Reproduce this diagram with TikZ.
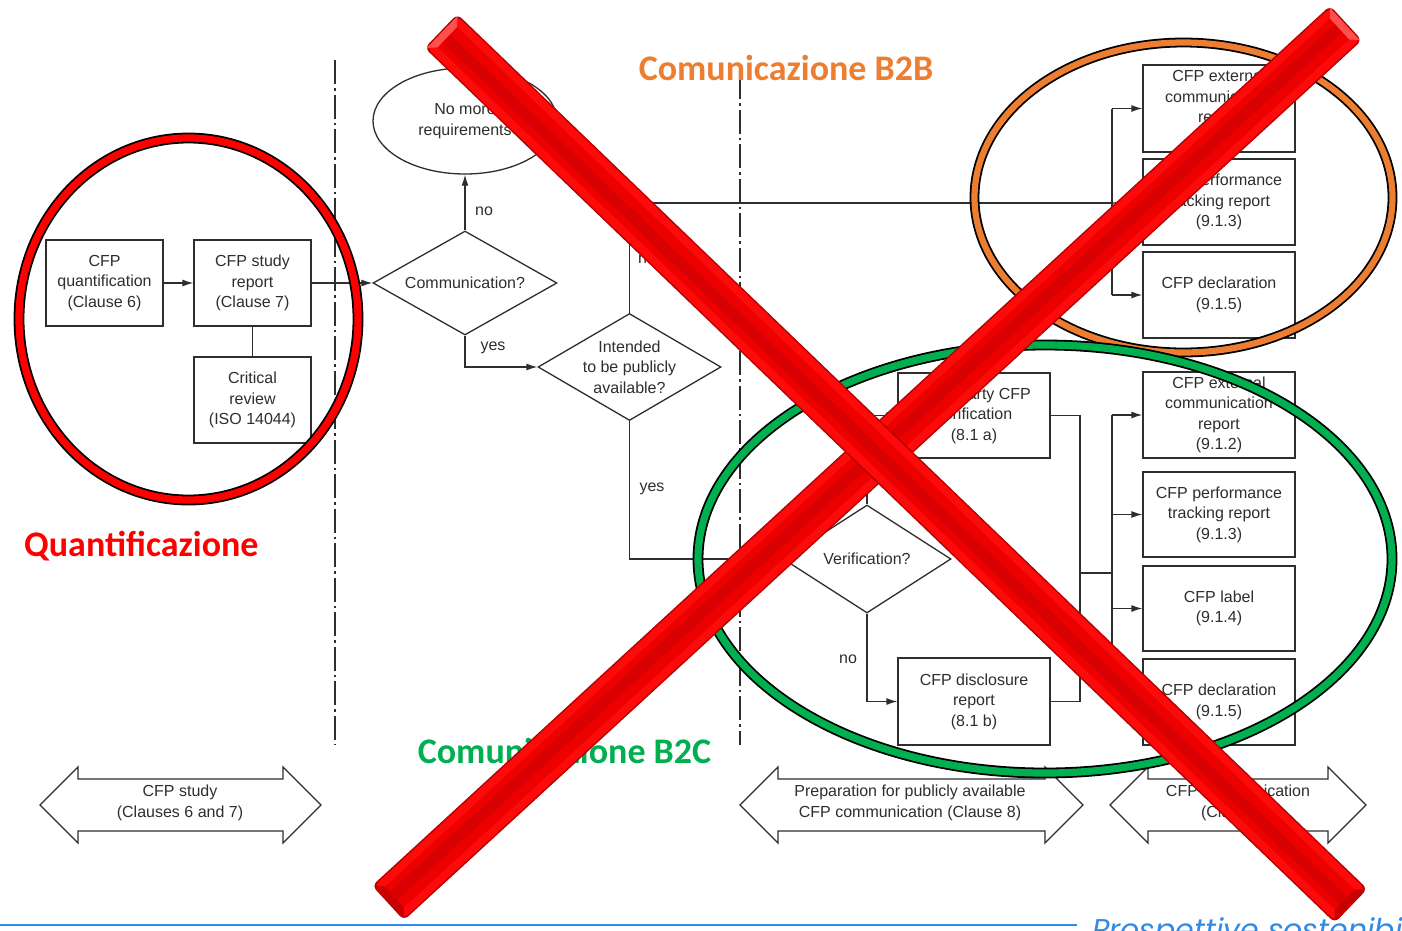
\documentclass[tikz,border=0pt]{standalone}
\usepackage{fontspec}
\setmainfont{Liberation Sans}
\newfontfamily\calib{Carlito}
\newfontfamily\prosp{Poppins}
\usetikzlibrary{shapes.geometric,arrows.meta,calc}

\definecolor{ink}{HTML}{2E2E2E}
\definecolor{qred}{HTML}{FF0000}
\definecolor{b2borange}{HTML}{ED7D31}
\definecolor{b2cgreen}{HTML}{00B050}
\definecolor{pblue}{HTML}{2F8AE8}
\definecolor{barrim}{HTML}{B40000}
\definecolor{barbody}{HTML}{FF0A0A}
\definecolor{barface}{HTML}{EC0000}
\definecolor{barlight}{HTML}{FF5050}
\definecolor{bardark}{HTML}{C80000}

% one bevelled bar of the cross: start point, canvas angle, length
\newcommand\crossbar[3]{%
  \begin{scope}[shift={#1}, rotate=#2]
    \fill[barrim, rounded corners=6] (0,-23.5) rectangle (#3,23.5);
    \fill[barbody, rounded corners=5] (1.5,-22) rectangle ({#3-1.5},22);
    \fill[barlight] (1.5,-22) -- (9,-14) -- (9,14) -- (1.5,22) -- cycle;
    \fill[bardark] ({#3-1.5},-22) -- ({#3-9},-14) -- ({#3-9},14) -- ({#3-1.5},22) -- cycle;
    \fill[barface] (9,-14) rectangle ({#3-9},14);
    \fill[bardark, opacity=0.55] (9,-4) rectangle ({#3-9},7);
  \end{scope}}

\tikzset{
  diag/.style={font=\fontsize{16}{20.5}\selectfont, text=ink},
  box/.style={diag, draw=ink, line width=1.3, fill=white, align=center,
    minimum width=117, minimum height=86, inner sep=0},
  rbox/.style={box, minimum width=152},
  dia/.style={shape=diamond, draw=ink, line width=1.3, fill=white, inner sep=0},
  conn/.style={draw=ink, line width=1.3},
  arr/.style={conn, -{Latex[length=11,width=7]}},
  lbl/.style={diag, inner sep=0},
  phase/.style={draw=ink, line width=1.3, fill=white, line join=miter},
  lane/.style={draw=ink, line width=1.6, dash pattern=on 24 off 4 on 2.5 off 4},
  ring/.style={draw=black, line width=1.8, double=#1, double distance=7.2},
  title/.style={font=\calib\bfseries\fontsize{36}{40}\selectfont, inner sep=0}
}

\begin{document}
\begin{tikzpicture}[x=1pt, y=-1pt]
\useasboundingbox (0,0) rectangle (1402,930);
\fill[white] (0,0) rectangle (1402,930);

% swim-lane separators
\draw[lane] (335,60) -- (335,745);
\draw[lane] (740,75) -- (740,745);

% quantification
\node[box] (quant) at (104.5,283) {CFP\\quantification\\(Clause 6)};
\node[box] (study) at (252.5,283) {CFP study\\report\\(Clause 7)};
\node[box] (crit) at (252.5,400) {Critical\\review\\(ISO 14044)};

% decisions (diamond outlines sized explicitly, text set on top)
\node[diag, shape=ellipse, draw=ink, line width=1.3, fill=white, align=center,
      minimum width=184, minimum height=106, inner sep=0] (nomore) at (465,121) {No more\\requirements};
\node[dia, minimum width=184, minimum height=104] (comm) at (465,283) {};
\node[diag] (commtxt) at (comm.center) {Communication?};
\node[dia, minimum width=183, minimum height=107] (intended) at (629.5,367) {};
\node[diag, align=center] (intendedtxt) at (intended.center) {Intended\\to be publicly\\available?};
\node[dia, minimum width=168, minimum height=108] (verif) at (867,559) {};
\node[diag] (veriftxt) at (verif.center) {Verification?};

% preparation for publicly available communication
\node[box, minimum width=152, minimum height=85] (third) at (974,415.5) {Third-party CFP\\verification\\(8.1 a)};
\node[box, minimum width=152, minimum height=87] (discl) at (974,701.5) {CFP disclosure\\report\\(8.1 b)};

% B2B communication outputs
\node[rbox, minimum height=87] (ext1) at (1219,108.5) {CFP external\\communication\\report\\(9.1.2)};
\node[rbox] (perf1) at (1219,202) {CFP performance\\tracking report\\(9.1.3)};
\node[rbox] (decl1) at (1219,295) {CFP declaration\\(9.1.5)};

% B2C communication outputs
\node[rbox] (ext2) at (1219,415) {CFP external\\communication\\report\\(9.1.2)};
\node[rbox, minimum height=85] (perf2) at (1219,514.5) {CFP performance\\tracking report\\(9.1.3)};
\node[rbox, minimum height=85] (label2) at (1219,608.5) {CFP label\\(9.1.4)};
\node[rbox] (decl2) at (1219,702) {CFP declaration\\(9.1.5)};

% junction points
\coordinate (topbus) at (1112,203);
\coordinate (join) at (1080,573);
\coordinate (lowbus) at (1112,573);

% connectors
\draw[arr] (quant) -- (study);
\draw[arr] (study.east) -- (comm.west);
\draw[conn] (study) -- (crit);
\draw[arr] (comm.north) -- (nomore.south);
\draw[arr] (comm.south) |- (intended.west);
\draw[conn] (intended.north) |- (topbus);
\draw[arr] (intended.south) |- (verif.west);
\draw[arr] (verif.north) |- (third.west);
\draw[arr] (verif.south) |- (discl.west);
\draw[conn] (third.east) -| (join) |- (discl.east);
\draw[conn] (join) -- (lowbus);

\draw[conn] (topbus |- ext1.west) -- (topbus |- decl1.west);
\draw[arr] (topbus |- ext1.west) -- (ext1.west);
\draw[arr] (topbus) -- (perf1.west);
\draw[arr] (topbus |- decl1.west) -- (decl1.west);

\draw[conn] (lowbus |- ext2.west) -- (lowbus |- decl2.west);
\draw[arr] (lowbus |- ext2.west) -- (ext2.west);
\draw[arr] (lowbus |- perf2.west) -- (perf2.west);
\draw[arr] (lowbus |- label2.west) -- (label2.west);
\draw[arr] (lowbus |- decl2.west) -- (decl2.west);

% branch labels
\node[lbl] (l1) at (484,211) {no};
\node[lbl] (l2) at (493,348) {yes};
\node[lbl] (l3) at (647,259) {no};
\node[lbl] (l4) at (652,489) {yes};
\node[lbl] (l5) at (850,466) {yes};
\node[lbl] (l6) at (848,659) {no};

% phase arrows
\draw[phase] (40,805) -- (78,767) -- (78,779) -- (283,779) -- (283,767) -- (321,805)
  -- (283,843) -- (283,831) -- (78,831) -- (78,843) -- cycle;
\node[diag, align=center] (ph1) at (180,803) {CFP study\\(Clauses 6 and 7)};
\draw[phase] (740,805) -- (778,767) -- (778,779) -- (1045,779) -- (1045,767) -- (1083,805)
  -- (1045,843) -- (1045,831) -- (778,831) -- (778,843) -- cycle;
\node[diag, align=center] (ph2) at (910,803) {Preparation for publicly available\\CFP communication (Clause 8)};
\draw[phase] (1110,805) -- (1148,767) -- (1148,779) -- (1328,779) -- (1328,767) -- (1366,805)
  -- (1328,843) -- (1328,831) -- (1148,831) -- (1148,843) -- cycle;
\node[diag, align=center] (ph3) at (1238,803) {CFP communication\\(Clause 9)};

% highlighted groups
\draw[ring=qred] (188.5,319) ellipse [x radius=169.5, y radius=181];
\draw[ring=b2borange, double distance=6.2] (1183.5,197.5) ellipse [x radius=209, y radius=155];
\draw[ring=b2cgreen] (1045,559) ellipse [x radius=347, y radius=214];

% group titles
\node[title, text=qred, anchor=west] (tq) at (24,546) {Quantificazione};
\node[title, text=b2borange] (tb2b) at (786,68) {Comunicazione B2B};
\node[title, text=b2cgreen] (tb2c) at (564.5,751) {Comunicazione B2C};

% footer
\draw[pblue, line width=1.5] (0,925) -- (1077,925);
\node[anchor=base west, inner sep=0, text=pblue,
      font=\prosp\itshape\fontsize{30}{30}\selectfont] (foot) at (1092,940) {Prospettive sostenibili};

% the cross
\crossbar{(1346,23)}{-137.43}{1300.9}
\crossbar{(441,31)}{-43.87}{1262.4}
\end{tikzpicture}
\end{document}
